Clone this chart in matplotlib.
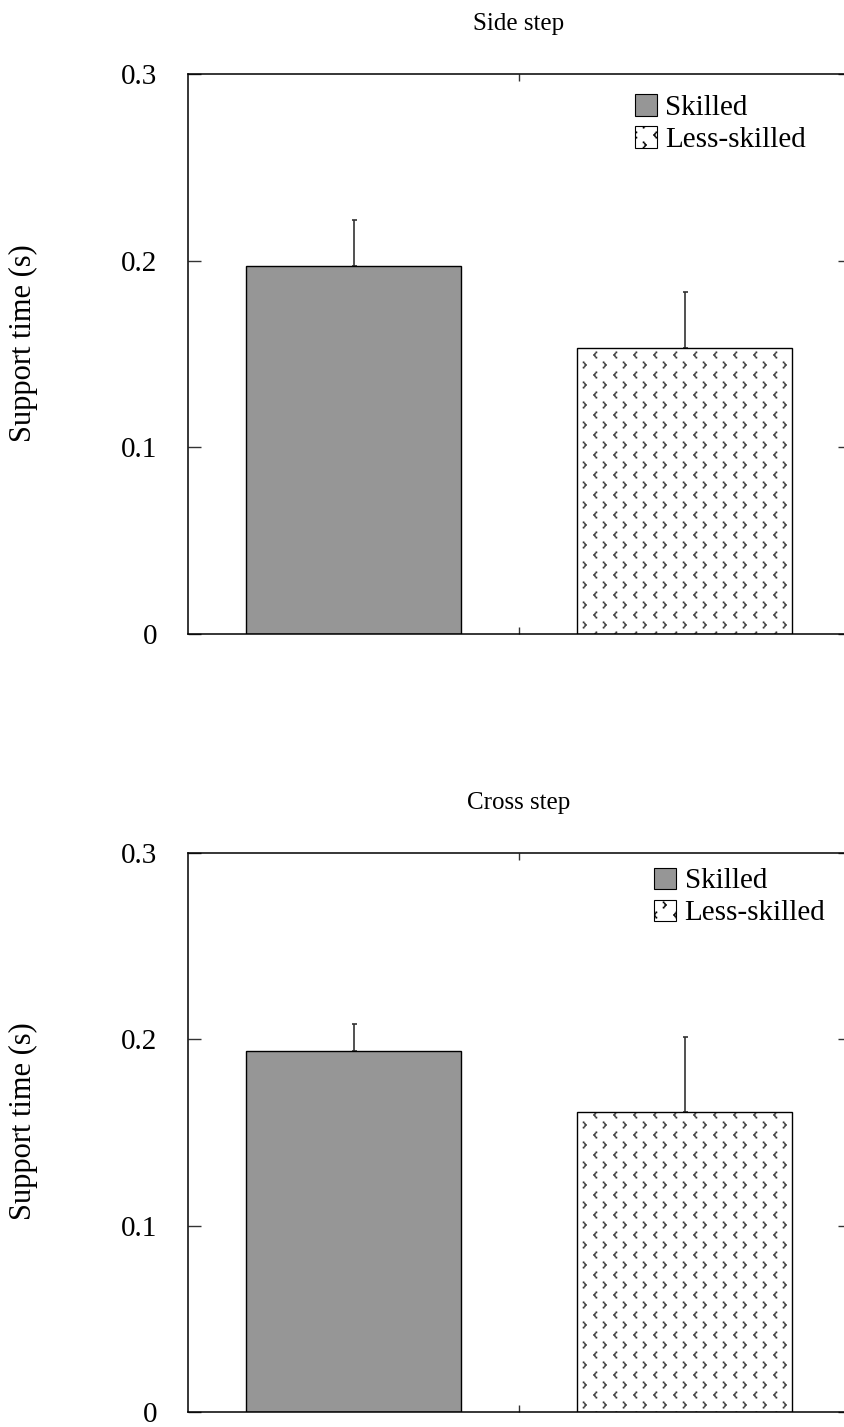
import warnings
import numpy as np
import matplotlib
matplotlib.use('Agg')
import matplotlib.pyplot as plt
import matplotlib.hatch as mhatch
from matplotlib.patches import Patch
from matplotlib.path import Path

warnings.filterwarnings('ignore')

groups = ['Skilled', 'Less-skilled']
panel_titles = ['Side step', 'Cross step']
side_step_mean = [0.197, 0.153]
side_step_sd = [0.025, 0.030]
cross_step_mean = [0.194, 0.161]
cross_step_sd = [0.014, 0.040]
y_ticks = [0, 0.1, 0.2, 0.3]
y_tick_labels = ['0', '0.1', '0.2', '0.3']


class ChevronDots(mhatch.HatchPatternBase):
    """Hatch 'v': staggered rows of small dotted '<' and '>' marks."""
    mark = np.array([[0.014, 0.026], [0.002, 0.013], [-0.010, 0.0],
                     [0.002, -0.013], [0.014, -0.026]])
    dot = 0.013
    cols = 5
    rows = 10

    def __init__(self, hatch, density):
        n = self.rows * self.cols * len(self.mark) * 5
        self.num_vertices = n if 'v' in hatch else 0

    def set_vertices_and_codes(self, vertices, codes):
        h = self.dot / 2
        square = np.array([[-h, -h], [h, -h], [h, h], [-h, h], [-h, -h]])
        sq_codes = [Path.MOVETO, Path.LINETO, Path.LINETO, Path.LINETO, Path.CLOSEPOLY]
        verts, cds = [], []
        for r in range(self.rows):
            y0 = 0.05 + 0.1 * r
            if r % 2 == 0:
                pts, x_start = self.mark, 0.15
            else:
                pts, x_start = self.mark * [-1, 1], 0.05
            for c in range(self.cols):
                x0 = x_start + 0.2 * c
                for px, py in pts:
                    verts.append(square + [x0 + px, y0 + py])
                    cds.extend(sq_codes)
        vertices[:] = np.concatenate(verts)
        codes[:] = cds


mhatch._hatch_types.append(ChevronDots)

plt.rcParams['font.family'] = ['Liberation Serif', 'DejaVu Serif']
plt.rcParams['hatch.linewidth'] = 0.3

W, H = 844, 1427
fig = plt.figure(figsize=(W / 100, H / 100), dpi=100)

# axes boxes in pixels: left, top, right, bottom
boxes = [(188, 74, 850, 634), (188, 853, 850, 1412)]
legend_anchor = [(0.675, 0.964), (0.704, 0.974)]
label_y = [0.52, 0.52]

fills = ['#969696', 'white']
hatches = ['', 'v']
dot_color = '#3a3a3a'

x = np.arange(len(groups))
data = [(side_step_mean, side_step_sd), (cross_step_mean, cross_step_sd)]

for i, (title, (means, sds)) in enumerate(zip(panel_titles, data)):
    l, t, r, b = boxes[i]
    ax = fig.add_axes([l / W, (H - b) / H, (r - l) / W, (b - t) / H])

    # fill + dot pattern first, then the black outline on top
    bars = ax.bar(x, means, width=0.65, color=fills, edgecolor=dot_color,
                  linewidth=0, zorder=2)
    for bar, h in zip(bars, hatches):
        bar.set_hatch(h)
    ax.bar(x, means, width=0.65, fill=False, edgecolor='black',
           linewidth=1.0, zorder=3)

    ax.errorbar(x, means, yerr=[np.zeros(len(sds)), sds], fmt='none',
                ecolor='#333333', elinewidth=1.2, capsize=1.8, capthick=1.2,
                zorder=1)

    ax.set_xlim(-0.5, 1.5)
    ax.set_ylim(0, 0.3)
    ax.set_xticks([0.5])
    ax.set_xticklabels([])
    ax.set_yticks(y_ticks)
    ax.set_yticklabels(y_tick_labels, fontsize=21)
    ax.tick_params(axis='y', direction='in', length=9, width=1.0,
                   right=True, pad=22, color='#333333')
    ax.tick_params(axis='x', direction='in', length=5, width=1.0,
                   top=True, color='#333333')
    for sp in ax.spines.values():
        sp.set_linewidth(1.1)

    ax.set_title(title, fontsize=18, pad=32)
    ax.set_ylabel('Support time (s)', fontsize=22)
    ax.yaxis.set_label_coords(-0.227, label_y[i])

    handles = []
    for lab, fc, h in zip(groups, fills, hatches):
        p = Patch(facecolor=fc, edgecolor='black', linewidth=0.8, label=lab)
        p.set_hatch(h)
        handles.append(p)
    ax.legend(handles=handles, loc='upper left',
              bbox_to_anchor=legend_anchor[i], frameon=False, fontsize=21,
              handlelength=0.75, handleheight=0.75, handletextpad=0.3,
              labelspacing=0.18, borderpad=0, borderaxespad=0)

fig.savefig('out.png', dpi=100)
